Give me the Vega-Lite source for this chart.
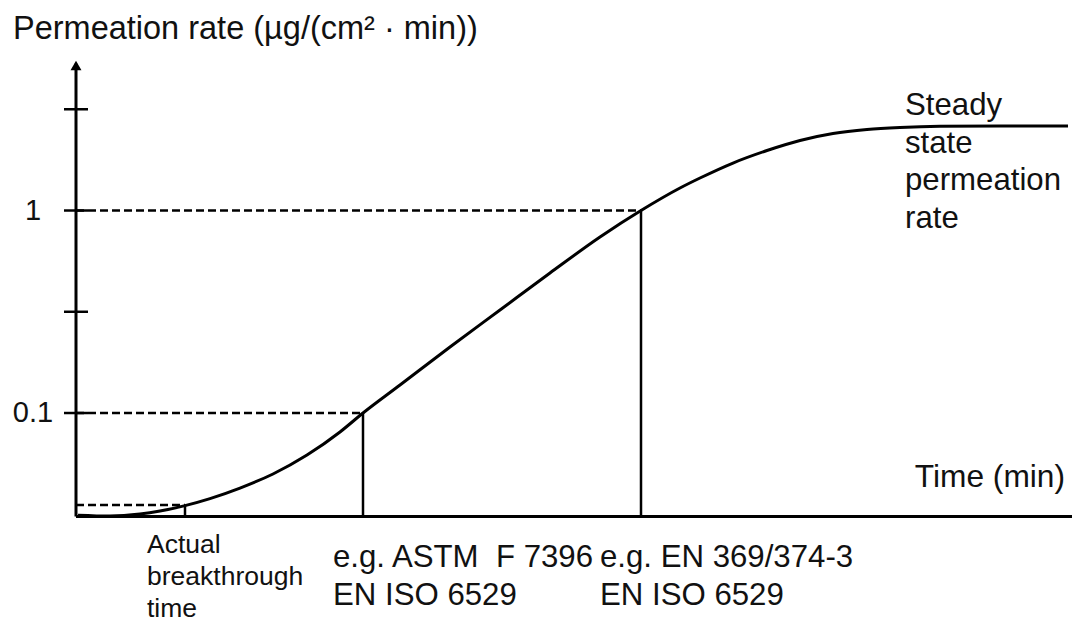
{
  "$schema": "https://vega.github.io/schema/vega-lite/v6.json",
  "autosize": {"type": "none"},
  "width": 1000,
  "height": 458.5,
  "padding": {"left": 76, "top": 58, "right": 0, "bottom": 107.5},
  "background": "white",
  "config": {
    "view": {"stroke": null},
    "text": {"font": "Liberation Sans", "color": "#111111"}
  },
  "datasets": {
    "curve": [
      {"t": 0.2, "rate": 0.0313},
      {"t": 3.4, "rate": 0.031},
      {"t": 6.4, "rate": 0.0317},
      {"t": 8.4, "rate": 0.0328},
      {"t": 10.9, "rate": 0.0349},
      {"t": 13.4, "rate": 0.0378},
      {"t": 16.4, "rate": 0.0426},
      {"t": 19.7, "rate": 0.05},
      {"t": 23.1, "rate": 0.062},
      {"t": 26.4, "rate": 0.0806},
      {"t": 28.7, "rate": 0.1},
      {"t": 32.4, "rate": 0.1375},
      {"t": 37.4, "rate": 0.2118},
      {"t": 42.4, "rate": 0.3226},
      {"t": 47.4, "rate": 0.4913},
      {"t": 52.4, "rate": 0.74},
      {"t": 56.5, "rate": 1.0},
      {"t": 60.4, "rate": 1.2915},
      {"t": 62.4, "rate": 1.447},
      {"t": 65.7, "rate": 1.716},
      {"t": 69.1, "rate": 1.978},
      {"t": 72.4, "rate": 2.217},
      {"t": 75.7, "rate": 2.4},
      {"t": 79.1, "rate": 2.512},
      {"t": 82.4, "rate": 2.57},
      {"t": 86.4, "rate": 2.605},
      {"t": 92.4, "rate": 2.614},
      {"t": 99.2, "rate": 2.614}
    ],
    "levels": [
      {"criterion": "Actual breakthrough time", "t0": 0, "t": 10.9, "floor": 0.03083, "rate": 0.0351},
      {"criterion": "ASTM F 7396", "t0": 0, "t": 28.7, "floor": 0.03083, "rate": 0.1},
      {"criterion": "EN 369/374-3", "t0": 0, "t": 56.5, "floor": 0.03083, "rate": 1.0}
    ],
    "ticks": [
      {"t": 0, "rate": 0.1, "label": "0.1"},
      {"t": 0, "rate": 0.3162, "label": ""},
      {"t": 0, "rate": 1.0, "label": "1"},
      {"t": 0, "rate": 3.162, "label": ""}
    ],
    "axes": [
      {"axis": "time", "x0": 0, "x1": 99.6, "y0": 0.03083, "y1": 0.03083},
      {"axis": "rate", "x0": 0, "x1": 0, "y0": 0.03083, "y1": 5.3}
    ],
    "notes": [
      {"kind": "title", "t": -6.3, "rate": 7.03, "text": "Permeation rate (µg/(cm² · min))"},
      {"kind": "big", "t": 82.9, "rate": 2.962, "text": "Steady\nstate\npermeation\nrate"},
      {"kind": "bigR", "t": 98.9, "rate": 0.04325, "text": "Time (min)"},
      {"kind": "big", "t": 25.7, "rate": 0.01736, "text": "e.g. ASTM\u00a0 F 7396\nEN ISO 6529"},
      {"kind": "big", "t": 52.4, "rate": 0.01736, "text": "e.g. EN 369/374-3\nEN ISO 6529"},
      {"kind": "small", "t": 7.1, "rate": 0.02035, "text": "Actual\nbreakthrough\ntime"}
    ]
  },
  "layer": [
    {
      "data": {"name": "levels"},
      "mark": {"type": "rule", "strokeDash": [8, 4], "strokeWidth": 2.5, "color": "black"},
      "encoding": {
        "x": {"field": "t0", "type": "quantitative", "scale": {"domain": [0, 100], "nice": false, "zero": false}, "axis": null},
        "x2": {"field": "t"},
        "y": {"field": "rate", "type": "quantitative", "scale": {"type": "log", "domain": [0.03083, 5.664], "nice": false}, "axis": null}
      }
    },
    {
      "data": {"name": "levels"},
      "mark": {"type": "rule", "strokeWidth": 2.5, "color": "black"},
      "encoding": {
        "x": {"field": "t", "type": "quantitative", "scale": {"domain": [0, 100], "nice": false, "zero": false}, "axis": null},
        "y": {"field": "floor", "type": "quantitative", "scale": {"type": "log", "domain": [0.03083, 5.664], "nice": false}, "axis": null},
        "y2": {"field": "rate"}
      }
    },
    {
      "data": {"name": "ticks"},
      "mark": {"type": "tick", "orient": "horizontal", "size": 24, "thickness": 2.5, "color": "black", "opacity": 1},
      "encoding": {
        "x": {"field": "t", "type": "quantitative", "scale": {"domain": [0, 100], "nice": false, "zero": false}, "axis": null},
        "y": {"field": "rate", "type": "quantitative", "scale": {"type": "log", "domain": [0.03083, 5.664], "nice": false}, "axis": null}
      }
    },
    {
      "data": {"name": "ticks"},
      "mark": {"type": "text", "align": "center", "baseline": "middle", "fontSize": 29, "dx": -43},
      "encoding": {
        "x": {"field": "t", "type": "quantitative", "scale": {"domain": [0, 100], "nice": false, "zero": false}, "axis": null},
        "y": {"field": "rate", "type": "quantitative", "scale": {"type": "log", "domain": [0.03083, 5.664], "nice": false}, "axis": null},
        "text": {"field": "label"}
      }
    },
    {
      "data": {"name": "axes"},
      "mark": {"type": "rule", "strokeWidth": 3, "color": "black"},
      "encoding": {
        "x": {"field": "x0", "type": "quantitative", "scale": {"domain": [0, 100], "nice": false, "zero": false}, "axis": null},
        "x2": {"field": "x1"},
        "y": {"field": "y0", "type": "quantitative", "scale": {"type": "log", "domain": [0.03083, 5.664], "nice": false}, "axis": null},
        "y2": {"field": "y1"}
      }
    },
    {
      "data": {"values": [{"t": 0, "rate": 5.2}]},
      "mark": {"type": "point", "shape": "triangle-up", "filled": true, "size": 120, "color": "black", "opacity": 1},
      "encoding": {
        "x": {"field": "t", "type": "quantitative", "scale": {"domain": [0, 100], "nice": false, "zero": false}, "axis": null},
        "y": {"field": "rate", "type": "quantitative", "scale": {"type": "log", "domain": [0.03083, 5.664], "nice": false}, "axis": null}
      }
    },
    {
      "data": {"name": "curve"},
      "mark": {"type": "line", "interpolate": "monotone", "strokeWidth": 3, "color": "black", "clip": false},
      "encoding": {
        "x": {"field": "t", "type": "quantitative", "scale": {"domain": [0, 100], "nice": false, "zero": false}, "axis": null},
        "y": {"field": "rate", "type": "quantitative", "scale": {"type": "log", "domain": [0.03083, 5.664], "nice": false}, "axis": null}
      }
    },
    {
      "data": {"name": "notes"},
      "transform": [{"filter": "datum.kind === 'title'"}],
      "mark": {"type": "text", "align": "left", "baseline": "alphabetic", "fontSize": 32.5},
      "encoding": {
        "x": {"field": "t", "type": "quantitative", "scale": {"domain": [0, 100], "nice": false, "zero": false}, "axis": null},
        "y": {"field": "rate", "type": "quantitative", "scale": {"type": "log", "domain": [0.03083, 5.664], "nice": false}, "axis": null},
        "text": {"field": "text"}
      }
    },
    {
      "data": {"name": "notes"},
      "transform": [{"filter": "datum.kind === 'big'"}],
      "mark": {"type": "text", "align": "left", "baseline": "alphabetic", "fontSize": 31.2, "lineBreak": "\n", "lineHeight": 37.5},
      "encoding": {
        "x": {"field": "t", "type": "quantitative", "scale": {"domain": [0, 100], "nice": false, "zero": false}, "axis": null},
        "y": {"field": "rate", "type": "quantitative", "scale": {"type": "log", "domain": [0.03083, 5.664], "nice": false}, "axis": null},
        "text": {"field": "text"}
      }
    },
    {
      "data": {"name": "notes"},
      "transform": [{"filter": "datum.kind === 'bigR'"}],
      "mark": {"type": "text", "align": "right", "baseline": "alphabetic", "fontSize": 31.7},
      "encoding": {
        "x": {"field": "t", "type": "quantitative", "scale": {"domain": [0, 100], "nice": false, "zero": false}, "axis": null},
        "y": {"field": "rate", "type": "quantitative", "scale": {"type": "log", "domain": [0.03083, 5.664], "nice": false}, "axis": null},
        "text": {"field": "text"}
      }
    },
    {
      "data": {"name": "notes"},
      "transform": [{"filter": "datum.kind === 'small'"}],
      "mark": {"type": "text", "align": "left", "baseline": "alphabetic", "fontSize": 26.5, "lineBreak": "\n", "lineHeight": 32},
      "encoding": {
        "x": {"field": "t", "type": "quantitative", "scale": {"domain": [0, 100], "nice": false, "zero": false}, "axis": null},
        "y": {"field": "rate", "type": "quantitative", "scale": {"type": "log", "domain": [0.03083, 5.664], "nice": false}, "axis": null},
        "text": {"field": "text"}
      }
    }
  ]
}
